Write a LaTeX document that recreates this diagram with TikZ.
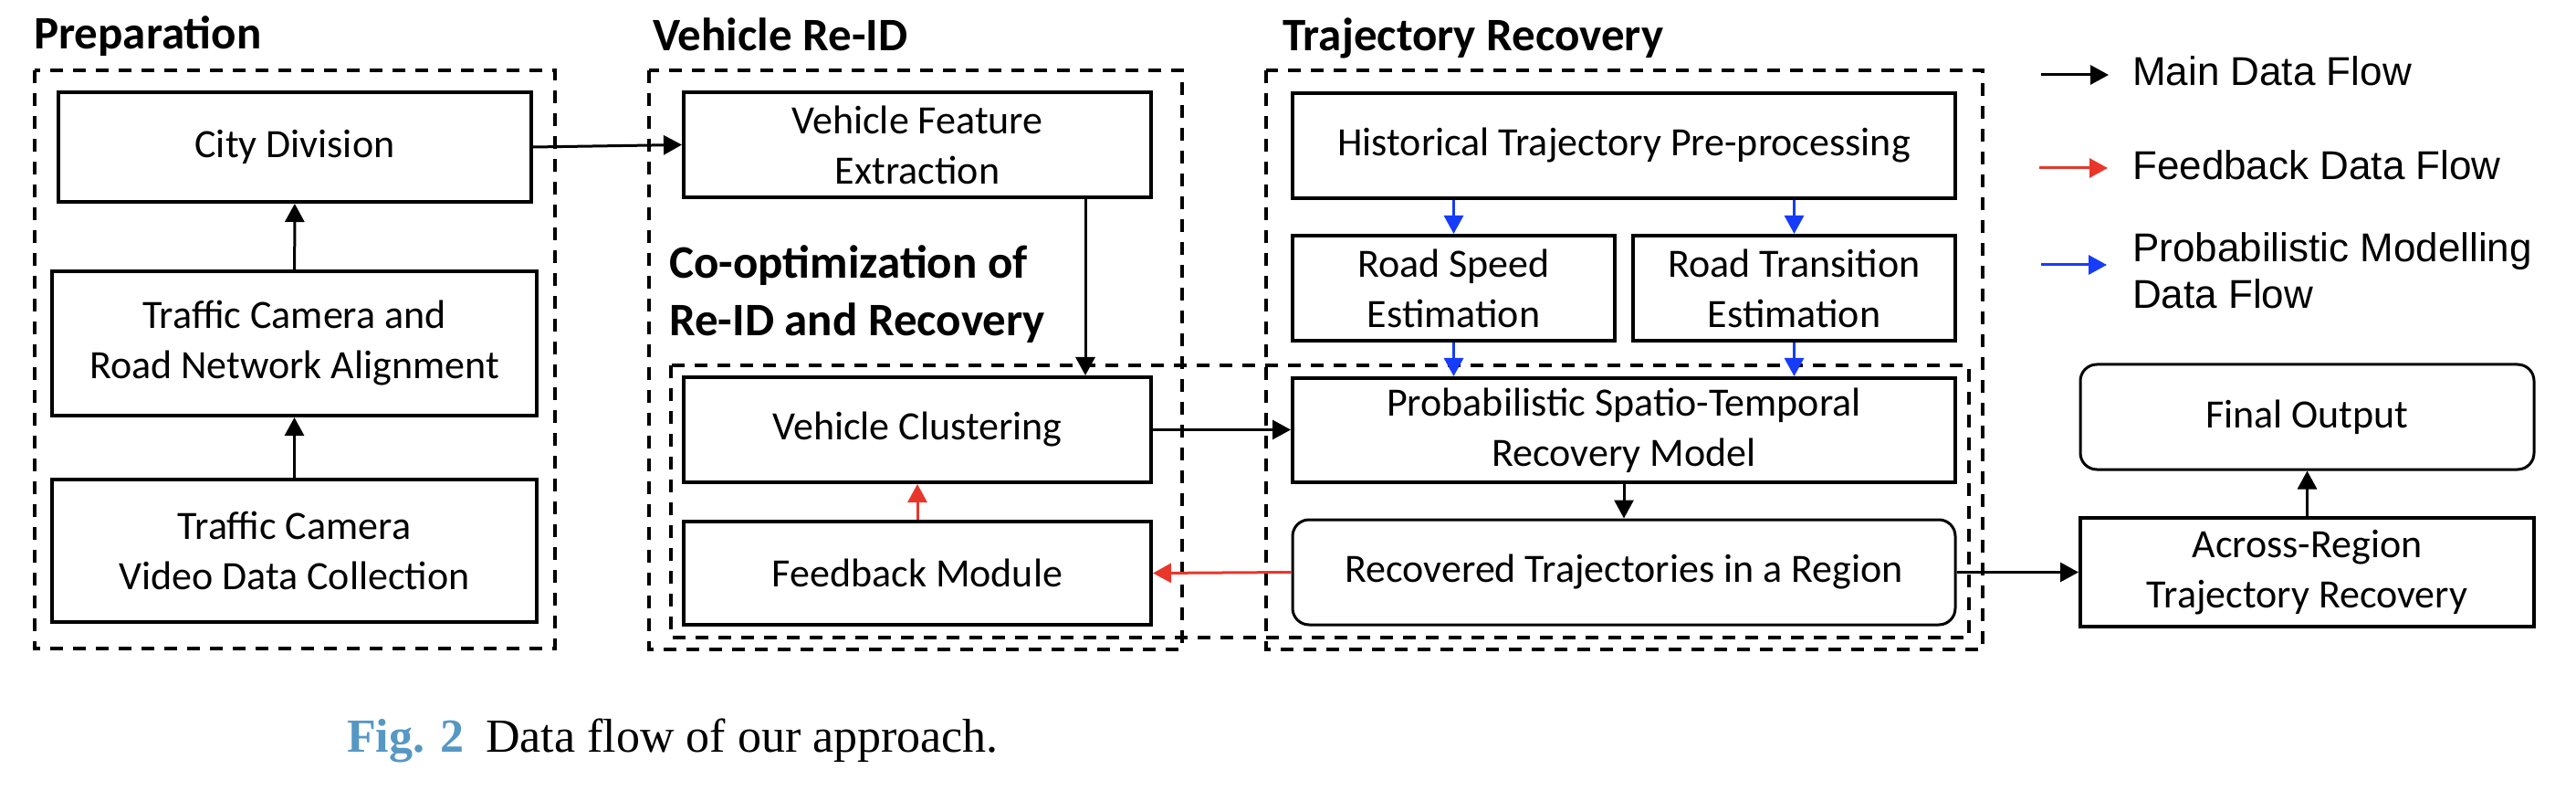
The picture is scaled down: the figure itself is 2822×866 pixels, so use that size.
\documentclass[tikz,border=0pt]{standalone}
\usepackage{fontspec}
\setmainfont{Carlito}
\newfontfamily\legfont{Liberation Sans}
\newfontfamily\capfont{Liberation Serif}
\usetikzlibrary{arrows.meta}
\definecolor{fbred}{RGB}{232,55,42}
\definecolor{pmblue}{RGB}{22,60,250}
\definecolor{capblue}{RGB}{86,152,196}
\tikzset{
 box/.style={draw, line width=4pt, align=center, font=\fontsize{44}{55}\selectfont, inner sep=0pt},
 rbox/.style={box, line width=3pt, rounded corners=18pt},
 group/.style={draw, line width=4pt, dash pattern=on 14pt off 11pt},
 grouptitle/.style={anchor=base west, font=\fontsize{51}{63}\selectfont\bfseries, inner sep=0pt, align=left},
 flow/.style={line width=3pt, -{Triangle[length=20pt,width=21pt]}},
 mainflow/.style={flow, draw=black, fill=black},
 fbflow/.style={flow, draw=fbred, fill=fbred},
 pmflow/.style={flow, draw=pmblue, fill=pmblue},
 legtext/.style={anchor=base west, inner sep=0pt, font=\legfont\fontsize{44}{51}\selectfont, align=left},
}
\begin{document}
\begin{tikzpicture}[x=1pt,y=-1pt]
\useasboundingbox (0,0) rectangle (2822,866);

% group frames
\draw[group] (38,77) rectangle (608,710);
\draw[group] (711,77) rectangle (1295,711);
\draw[group] (1387,77) rectangle (2172,711);
\draw[group] (735,400) rectangle (2157,698);

% group titles (base anchor of a multi-line node is its last line)
\node[grouptitle] (tprep) at (37,54) {Preparation};
\node[grouptitle] (treid) at (715,56) {Vehicle Re-ID};
\node[grouptitle] (ttr) at (1405,56) {Trajectory Recovery};
\node[grouptitle] (tco) at (733,368) {Co-optimization of\\Re-ID and Recovery};

% preparation
\node[box, minimum width=518pt, minimum height=120pt] (city) at (323,161) {City Division};
\node[box, minimum width=531pt, minimum height=158pt] (align) at (322.5,376) {Traffic Camera and\\Road Network Alignment};
\node[box, minimum width=531pt, minimum height=156pt] (collect) at (322.5,603) {Traffic Camera\\Video Data Collection};

% vehicle re-id
\node[box, minimum width=512pt, minimum height=115pt] (vfe) at (1005,158.5) {Vehicle Feature\\Extraction};
\node[box, minimum width=512pt, minimum height=115pt] (vc) at (1005,470.5) {Vehicle Clustering};
\node[box, minimum width=512pt, minimum height=113pt] (fm) at (1005,627.5) {Feedback Module};

% trajectory recovery
\node[box, minimum width=726pt, minimum height=115pt] (htp) at (1779,159.5) {Historical Trajectory Pre-processing};
\node[box, minimum width=353pt, minimum height=115pt] (rse) at (1592.5,315.5) {Road Speed\\Estimation};
\node[box, minimum width=353pt, minimum height=115pt] (rte) at (1965.5,315.5) {Road Transition\\Estimation};
\node[box, minimum width=726pt, minimum height=114pt] (pst) at (1779,471) {Probabilistic Spatio-Temporal\\Recovery Model};
\node[rbox, minimum width=726pt, minimum height=115pt] (rtr) at (1779,626.5) {Recovered Trajectories in a Region};

% output
\node[rbox, minimum width=497pt, minimum height=115pt] (fo) at (2527.5,456.5) {Final Output};
\node[box, minimum width=497pt, minimum height=119pt] (ar) at (2527.5,626.5) {Across-Region\\Trajectory Recovery};

% connectors
\draw[mainflow] (collect) -- (align);
\draw[mainflow] (align) -- (city);
\draw[mainflow] (city.east) -- (vfe.west);
\draw[mainflow] ([xshift=184pt]vfe.south) -- ([xshift=184pt]vc.north);
\draw[mainflow] (vc.east) -- (vc.east -| pst.west);
\draw[pmflow] (htp.south -| rse.north) -- (rse.north);
\draw[pmflow] (htp.south -| rte.north) -- (rte.north);
\draw[pmflow] (rse.south) -- (rse.south |- pst.north);
\draw[pmflow] (rte.south) -- (rte.south |- pst.north);
\draw[mainflow] (pst) -- (rtr);
\draw[fbflow] (rtr.west) -- (fm.east);
\draw[fbflow] (fm) -- (vc);
\draw[mainflow] (rtr.east) -- (ar.west);
\draw[mainflow] (ar) -- (fo);

% legend
\coordinate (l1s) at (2236,82); \coordinate (l1e) at (2310,82);
\coordinate (l2s) at (2234,184); \coordinate (l2e) at (2309,184);
\coordinate (l3s) at (2236,290); \coordinate (l3e) at (2308,290);
\draw[mainflow] (l1s) -- (l1e);
\draw[fbflow] (l2s) -- (l2e);
\draw[pmflow] (l3s) -- (l3e);
\node[legtext] (lt1) at (2336,94) {Main Data Flow};
\node[legtext] (lt2) at (2336,197) {Feedback Data Flow};
\node[legtext] (lt3) at (2336,338) {Probabilistic Modelling\\Data Flow};

% caption
\node[anchor=base west, inner sep=0pt, font=\capfont\fontsize{52}{60}\selectfont\bfseries, text=capblue] (figno) at (380,823) {Fig. 2};
\node[anchor=base west, inner sep=0pt, font=\capfont\fontsize{52}{60}\selectfont] (captext) at (532,823) {Data flow of our approach.};
\end{tikzpicture}
\end{document}
